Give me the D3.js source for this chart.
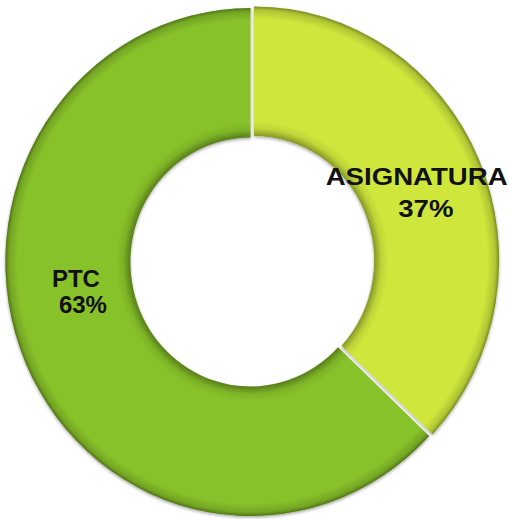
<!DOCTYPE html>
<html>
<head>
<meta charset="utf-8">
<script src="https://cdn.jsdelivr.net/npm/d3@7"></script>
<style>
  body { margin: 0; background: #fff; }
  text { font-family: "Liberation Sans", Arial, sans-serif; font-weight: bold; }
</style>
</head>
<body>
<svg></svg>
<script>
var width = 509, height = 519;

var categories = ['ASIGNATURA', 'PTC'];
var shares = [37, 63];
var sliceColors = ['#cfe73c', '#88c22a'];

var cx = 250.5, cy = 262, sx = 0.965;
var outerR = 254, innerR = 124.5;

var svg = d3.select('svg')
    .attr('width', width)
    .attr('height', height);

var defs = svg.append('defs');

// darker rim on the inner and outer edge, like the bevel in the original
var bevel = defs.append('radialGradient')
    .attr('id', 'bevel')
    .attr('gradientUnits', 'userSpaceOnUse')
    .attr('cx', 0).attr('cy', 0).attr('r', outerR);
[[0.49, 0.35], [0.52, 0.08], [0.55, 0], [0.95, 0], [0.985, 0.15], [1, 0.4]].forEach(function(s){
    bevel.append('stop')
        .attr('offset', s[0])
        .attr('stop-color', '#000')
        .attr('stop-opacity', s[1]);
});

var shadow = defs.append('filter')
    .attr('id', 'shadow')
    .attr('x', '-10%').attr('y', '-10%')
    .attr('width', '120%').attr('height', '120%');
shadow.append('feDropShadow')
    .attr('dx', 0).attr('dy', 1.5)
    .attr('stdDeviation', 1.5)
    .attr('flood-color', '#000')
    .attr('flood-opacity', 0.35);

var data = categories.map(function(c, i){ return {name: c, value: shares[i], color: sliceColors[i]}; });

var pie = d3.pie()
    .sort(null)
    .value(d => d.value);

var arc = d3.arc()
    .innerRadius(innerR)
    .outerRadius(outerR);

var arcs = pie(data);

// only ASIGNATURA is pulled out a little
function explode(d){
    if (d.data.name !== 'ASIGNATURA') return [0, 0];
    var a = (d.startAngle + d.endAngle) / 2;
    return [Math.sin(a) * 4, -Math.cos(a) * 4];
}

var chart = svg.append('g')
    .attr('transform', `translate(${cx},${cy}) scale(${sx},1)`);

var slices = chart.selectAll('.slice')
    .data(arcs)
    .enter()
    .append('g')
        .classed('slice', true)
        .attr('transform', d => `translate(${explode(d)})`)
        .attr('filter', 'url(#shadow)');

slices.append('path')
    .attr('d', arc)
    .attr('fill', d => d.data.color);

slices.append('path')
    .attr('d', arc)
    .attr('fill', 'url(#bevel)');

// labels start from the centroid, then nudged to where the original put them
var labelStyle = {
    'ASIGNATURA': {shift: [-5, 0], stretch: 1.15, pctX: 8, lineGap: 32},
    'PTC':        {shift: [-7, -50], stretch: 1, pctX: 7, lineGap: 26}
};

var labels = svg.append('g')
    .selectAll('text')
    .data(arcs)
    .enter()
    .append('text')
        .attr('text-anchor', 'middle')
        .attr('font-size', 24)
        .attr('fill', '#111')
        .attr('transform', function(d){
            var c = arc.centroid(d), e = explode(d), s = labelStyle[d.data.name];
            var x = cx + (c[0] + e[0]) * sx + s.shift[0];
            var y = cy + c[1] + e[1] + s.shift[1];
            return `translate(${x},${y}) scale(${s.stretch},1)`;
        });

labels.append('tspan')
    .attr('x', 0)
    .attr('dy', 0)
    .text(d => d.data.name);

labels.append('tspan')
    .attr('x', d => labelStyle[d.data.name].pctX)
    .attr('dy', d => labelStyle[d.data.name].lineGap)
    .text(d => d.data.value + '%');
</script>
</body>
</html>
